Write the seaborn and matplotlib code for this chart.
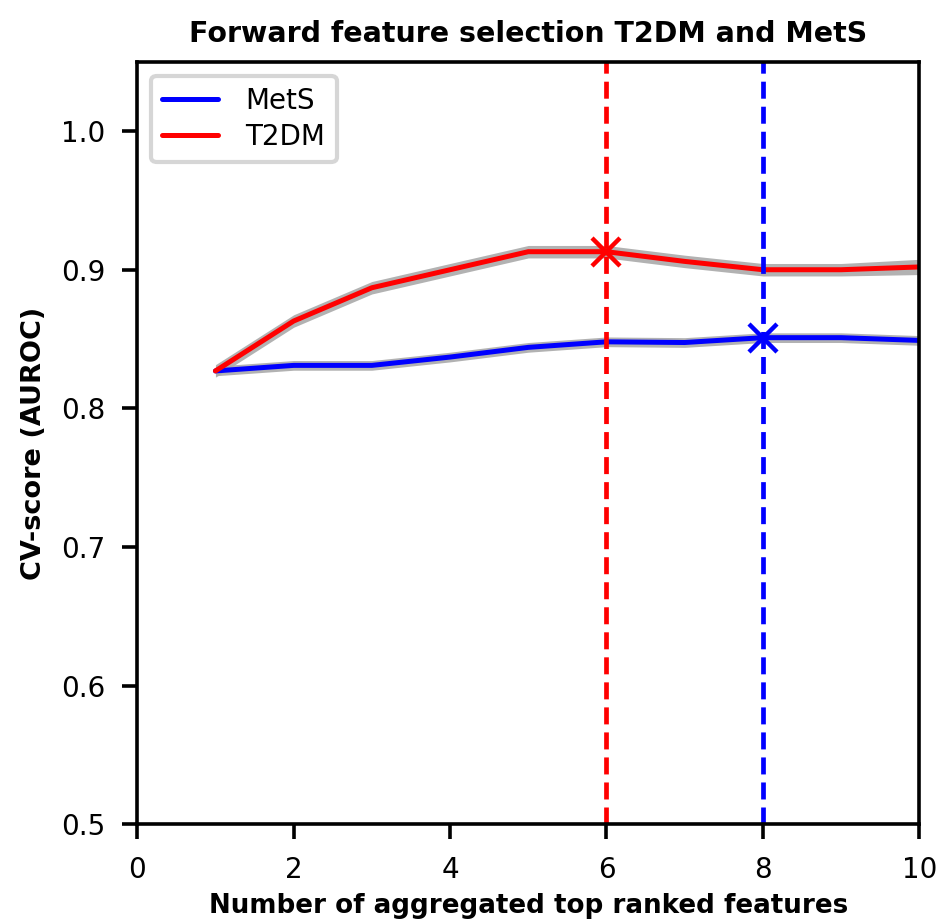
import numpy as np
import pandas as pd
import seaborn as sns
import matplotlib
matplotlib.use("Agg")
import matplotlib.pyplot as plt

n_features = [1, 2, 3, 4, 5, 6, 7, 8, 9, 10]
mets_score = [0.827, 0.831, 0.831, 0.837, 0.844, 0.848, 0.8475, 0.851, 0.851, 0.849]
mets_std = [0.0035, 0.0035, 0.0035, 0.0035, 0.0035, 0.0035, 0.0035, 0.0035, 0.0035, 0.0035]
t2dm_score = [0.827, 0.863, 0.887, 0.900, 0.913, 0.913, 0.906, 0.900, 0.900, 0.902]
t2dm_std = [0.0045, 0.0045, 0.0045, 0.0045, 0.0045, 0.0045, 0.0045, 0.0045, 0.0045, 0.0055]
best_mets = 8
best_t2dm = 6

sns.set_style("ticks")
plt.rcParams['font.family'] = ['DejaVu Sans']
for k in ['text.color', 'axes.labelcolor', 'xtick.color', 'ytick.color', 'axes.edgecolor']:
    plt.rcParams[k] = 'black'

df = pd.DataFrame({
    "n": n_features * 2,
    "score": mets_score + t2dm_score,
    "model": ["MetS"] * 10 + ["T2DM"] * 10,
})

fig = plt.figure(figsize=(9.4, 9.22), dpi=100)
ax = fig.add_axes([0.146, 0.106, 0.832, 0.827])

m = np.array(mets_score); ms = np.array(mets_std)
t = np.array(t2dm_score); ts = np.array(t2dm_std)
ax.fill_between(n_features, m - ms, m + ms, color="#aaaaaa", alpha=0.9, lw=0)
ax.fill_between(n_features, t - ts, t + ts, color="#aaaaaa", alpha=0.9, lw=0)

sns.lineplot(data=df, x="n", y="score", hue="model", palette={"MetS": "blue", "T2DM": "red"},
             lw=3.6, ax=ax, legend=True)

ax.axvline(best_t2dm, color="red", ls="--", lw=3.4, dashes=(3.6, 1.7))
ax.axvline(best_mets, color="blue", ls="--", lw=3.4, dashes=(3.6, 1.7))
ax.plot([best_t2dm], [t2dm_score[best_t2dm - 1]], marker="x", color="red", ms=20, mew=3.2)
ax.plot([best_mets], [mets_score[best_mets - 1]], marker="x", color="blue", ms=20, mew=3.2)

ax.set_xlim(0, 10)
ax.set_ylim(0.5, 1.05)
ax.set_xticks([0, 2, 4, 6, 8, 10])
ax.set_yticks([0.5, 0.6, 0.7, 0.8, 0.9, 1.0])
ax.tick_params(labelsize=20, width=2.6, length=11, pad=12)
for s in ax.spines.values():
    s.set_linewidth(2.6)
    s.set_visible(True)
ax.set_xlabel("Number of aggregated top ranked features", fontsize=18.8, fontweight="bold", labelpad=6)
ax.set_ylabel("CV-score (AUROC)", fontsize=19.5, fontweight="bold", labelpad=10)
ax.set_title("Forward feature selection T2DM and MetS", fontsize=20.5, fontweight="bold", pad=14)

leg = ax.legend(loc="upper left", fontsize=20, frameon=True, fancybox=True, borderpad=0.4,
                handlelength=2.0, handletextpad=1.0, labelspacing=0.3)
leg.get_frame().set_edgecolor("#cccccc")
leg.get_frame().set_linewidth(3)
for l in leg.get_lines():
    l.set_linewidth(3.6)

fig.savefig("out.png", dpi=100)
